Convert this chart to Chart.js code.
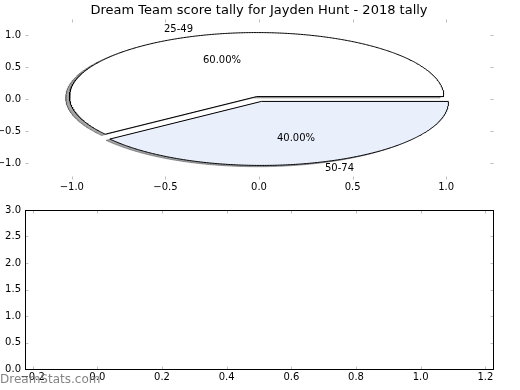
<!DOCTYPE html>
<html>
<head>
<meta charset="utf-8">
<script src="https://cdn.jsdelivr.net/npm/chart.js@4.4.1/dist/chart.umd.min.js"></script>
<style>
  html, body { margin: 0; padding: 0; background: #fff; }
  #wrap { position: relative; width: 520px; height: 390px; }
  .box { position: absolute; left: 0; width: 520px; }
  #pieBox { top: 0; height: 200px; }
  #emptyBox { top: 200px; height: 190px; }
</style>
</head>
<body>
<div id="wrap">
  <div class="box" id="pieBox"><canvas id="pie"></canvas></div>
  <div class="box" id="emptyBox"><canvas id="empty"></canvas></div>
</div>
<script>
const chartTitle = 'Dream Team score tally for Jayden Hunt - 2018 tally';
const sliceLabels = ['25-49', '50-74'];
const slicePercents = [60, 40];
const sliceColors = ['#ffffff', '#e9f0fc'];
const shadowColors = ['rgba(77,77,77,0.5)', 'rgba(70,72,76,0.5)'];
const sliceExplode = [0.04, 0.04];

const pieTicks = [-1.0, -0.5, 0.0, 0.5, 1.0];
const emptyXTicks = [-0.2, 0.0, 0.2, 0.4, 0.6, 0.8, 1.0, 1.2];
const emptyYTicks = [0.0, 0.5, 1.0, 1.5, 2.0, 2.5, 3.0];

const FONT = 'DejaVu Sans';
const fmt = (v) => Number(v).toFixed(1).replace('-', '\u2212');

// wedge outline (centre -> arc -> centre), angles counter-clockwise from +x
function sliceGeom(i) {
  const total = slicePercents.reduce((a, b) => a + b, 0);
  const start = slicePercents.slice(0, i).reduce((a, b) => a + b, 0) / total * 360;
  const end = start + slicePercents[i] / total * 360;
  const mid = ((start + end) / 2) * Math.PI / 180;
  return {
    start, end, mid,
    cx: sliceExplode[i] * Math.cos(mid),
    cy: sliceExplode[i] * Math.sin(mid)
  };
}

function wedgePoints(i, dx, dy) {
  const g = sliceGeom(i);
  const cx = g.cx + dx, cy = g.cy + dy;
  const pts = [{ x: cx, y: cy }];
  const n = Math.ceil((g.end - g.start) * 2);
  for (let k = 0; k <= n; k++) {
    const t = (g.start + (g.end - g.start) * k / n) * Math.PI / 180;
    pts.push({ x: cx + Math.cos(t), y: cy + Math.sin(t) });
  }
  pts.push({ x: cx, y: cy });
  return pts;
}

function mplScale(min, max, ticks, axis, size, pad) {
  return {
    type: 'linear',
    min,
    max,
    afterBuildTicks: (s) => { s.ticks = ticks.map((v) => ({ value: v })); },
    afterFit: (s) => { if (axis === 'x') s.height = size; else s.width = size; },
    grid: { display: false, drawTicks: false },
    border: { display: false },
    ticks: {
      color: '#000',
      font: { family: FONT, size: 10 },
      padding: pad,
      maxRotation: 0,
      autoSkip: false,
      callback: (v) => fmt(v)
    }
  };
}

// matplotlib-like inward tick marks on all four sides, optional frame
const innerTicks = {
  id: 'innerTicks',
  afterDraw(chart, args, opts) {
    const { ctx, chartArea: a, scales: { x, y } } = chart;
    const L = Math.round(a.left) + 0.5, R = Math.round(a.right) + 0.5;
    const T = Math.round(a.top) + 0.5, B = Math.round(a.bottom) + 0.5;
    ctx.save();
    ctx.strokeStyle = '#bdbdbd';
    ctx.lineWidth = 1;
    ctx.beginPath();
    x.ticks.forEach((t) => {
      const px = Math.round(x.getPixelForValue(t.value)) + 0.5;
      ctx.moveTo(px, B); ctx.lineTo(px, B - 3);
      ctx.moveTo(px, T); ctx.lineTo(px, T + 3);
    });
    y.ticks.forEach((t) => {
      const py = Math.round(y.getPixelForValue(t.value)) + 0.5;
      ctx.moveTo(L, py); ctx.lineTo(L + 3, py);
      ctx.moveTo(R, py); ctx.lineTo(R - 3, py);
    });
    ctx.stroke();
    if (opts.frame) {
      ctx.strokeStyle = '#000';
      ctx.strokeRect(L, T, R - L, B - T);
    }
    ctx.restore();
  }
};

// pie labels + percentages, and the title
const pieText = {
  id: 'pieText',
  afterDatasetsDraw(chart) {
    const { ctx, chartArea: a, scales: { x, y } } = chart;
    ctx.save();
    ctx.fillStyle = '#000';
    ctx.font = '10px "' + FONT + '"';
    ctx.textBaseline = 'middle';
    sliceLabels.forEach((lab, i) => {
      const g = sliceGeom(i);
      const lx = g.cx + 1.1 * Math.cos(g.mid), ly = g.cy + 1.1 * Math.sin(g.mid);
      ctx.textAlign = lx > 0 ? 'left' : 'right';
      ctx.fillText(lab, x.getPixelForValue(lx), y.getPixelForValue(ly));
      const px = g.cx + 0.6 * Math.cos(g.mid), py = g.cy + 0.6 * Math.sin(g.mid);
      ctx.textAlign = 'center';
      ctx.fillText(slicePercents[i].toFixed(2) + '%', x.getPixelForValue(px), y.getPixelForValue(py));
    });
    ctx.font = '13px "' + FONT + '"';
    ctx.textAlign = 'center';
    ctx.textBaseline = 'alphabetic';
    ctx.fillText(chartTitle, (a.left + a.right) / 2, 14);
    ctx.restore();
  }
};

const watermark = {
  id: 'watermark',
  afterDraw(chart) {
    const { ctx } = chart;
    ctx.save();
    ctx.font = '12px "' + FONT + '"';
    ctx.fillStyle = 'rgba(110,110,110,0.85)';
    ctx.textAlign = 'left';
    ctx.textBaseline = 'alphabetic';
    ctx.fillText('DreamStats.com', 0, 183);
    ctx.restore();
  }
};

const shadowSets = sliceLabels.map((lab, i) => ({
  label: lab + ' shadow',
  data: wedgePoints(i, -0.02, -0.02),
  showLine: true,
  fill: 'shape',
  backgroundColor: shadowColors[i],
  borderColor: shadowColors[i],
  borderWidth: 1,
  pointRadius: 0,
  tension: 0,
  order: 2
}));

const wedgeSets = sliceLabels.map((lab, i) => ({
  label: lab,
  data: wedgePoints(i, 0, 0),
  showLine: true,
  fill: 'shape',
  backgroundColor: sliceColors[i],
  borderColor: '#000',
  borderWidth: 1,
  pointRadius: 0,
  tension: 0,
  order: 1
}));

new Chart(document.getElementById('pie'), {
  type: 'scatter',
  data: { datasets: [...wedgeSets, ...shadowSets] },
  options: {
    responsive: true,
    maintainAspectRatio: false,
    animation: false,
    devicePixelRatio: 1,
    layout: { padding: { top: 19, right: 27, left: 0, bottom: 0 } },
    plugins: { legend: { display: false }, tooltip: { enabled: false }, innerTicks: { frame: false } },
    scales: {
      x: mplScale(-1.25, 1.25, pieTicks, 'x', 21, 2),
      y: mplScale(-1.25, 1.25, pieTicks, 'y', 25, 4)
    }
  },
  plugins: [innerTicks, pieText]
});

new Chart(document.getElementById('empty'), {
  type: 'scatter',
  data: { datasets: [] },
  options: {
    responsive: true,
    maintainAspectRatio: false,
    animation: false,
    devicePixelRatio: 1,
    layout: { padding: { top: 10, right: 27, left: 0, bottom: 0 } },
    plugins: { legend: { display: false }, tooltip: { enabled: false }, innerTicks: { frame: true } },
    scales: {
      x: mplScale(-0.2235, 1.2235, emptyXTicks, 'x', 21, 2),
      y: mplScale(0, 3, emptyYTicks, 'y', 25, 4)
    }
  },
  plugins: [innerTicks, watermark]
});
</script>
</body>
</html>
